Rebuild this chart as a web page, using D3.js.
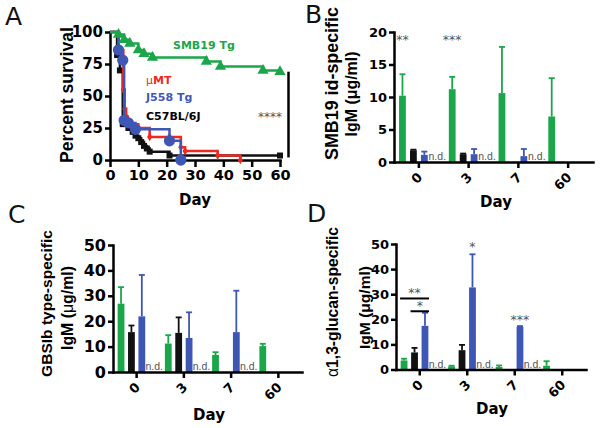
<!DOCTYPE html>
<html><head><meta charset="utf-8">
<script src="https://cdn.jsdelivr.net/npm/d3@7"></script>
<style>body{margin:0;background:#fff}svg{display:block}</style>
</head><body><svg id="c" width="600" height="428" font-family="DejaVu Sans"></svg>
<script>
// ---------------- data ----------------
// Panel A: Kaplan-Meier survival (day, percent)
const survDaysSMB19 = [0,3,5,7,10,12,15,34,39,54,60];
const survPctSMB19  = [100,98,94,91,86,83,80,77,73,70,69];
const survDaysMuMT  = [0,3,4.7,5.2,5.7,6.3,7,10,14,21,25,26.5,38,46];
const survPctMuMT   = [100,86,55,40,34,30,28,25,18,18,10,7,3.5,0];
const survDaysJ558  = [0,3,4.5,5,6.5,9,21,25];
const survPctJ558   = [100,86,78,31,29,24,15,0];
const survDaysC57   = [0,2.5,3.5,4.5,6.5,8,9,10,11,12,13,14,21,60];
const survPctC57    = [100,82,70,28,25,22,19,17,14,11,9,6.5,3.5,3.5];
const survTicksX = [0,10,20,30,40,50,60];
const survTicksY = [0,25,50,75,100];

// Panels B-D: IgM by day and mouse group
const days   = ["0","3","7","60"];
const groups = ["SMB19 Tg","C57BL/6J","J558 Tg","μMT"];
const ndMuMT = [true,true,true,false];   // μMT: not detected

const idSMB19 = [10.2,11.2,10.6,7.0];  const idSMB19Err = [3.3,1.9,7.1,5.9];
const idC57   = [1.8,1.2,null,null];   const idC57Err   = [0.1,0.1,null,null];
const idJ558  = [1.1,1.2,0.9,null];    const idJ558Err  = [0.5,0.8,1.1,null];
const idTicks = [0,5,10,15,20];

const gbsSMB19 = [26.9,11.2,6.7,10.2]; const gbsSMB19Err = [6.5,3.3,1.1,0.9];
const gbsC57   = [15.7,15.4,null,null];const gbsC57Err   = [2.6,6.1,null,null];
const gbsJ558  = [21.9,13.4,15.7,null];const gbsJ558Err  = [16.3,10.1,16.3,null];
const gbsTicks = [0,10,20,30,40,50];

const gluSMB19 = [3.6,1.2,1.0,1.5];    const gluSMB19Err = [0.7,0.3,0.6,1.8];
const gluC57   = [6.8,7.7,null,null];  const gluC57Err   = [1.8,2.1,null,null];
const gluJ558  = [17.4,32.7,17.0,null];const gluJ558Err  = [5.2,13.2,0.3,null];
const gluTicks = [0,10,20,30,40,50];

const sigB = [{day:"0",group:"SMB19 Tg",value:19,label:"**"},{day:"3",group:"SMB19 Tg",value:19,label:"***"}];
const sigD = [{day:"3",group:"J558 Tg",value:49.5,label:"*"},{day:"7",group:"J558 Tg",value:20.3,label:"***"}];
const bracketsD = [{day:"0",from:"SMB19 Tg",to:"J558 Tg",value:28.3,label:"**"},
                   {day:"0",from:"C57BL/6J",to:"J558 Tg",value:23.2,label:"*"}];

// ---------------- style ----------------
const C = {green:"#1ca64b", black:"#111111", blue:"#3f57b4", red:"#ec2a22", sig:"#555"};
const ARIAL = "Liberation Sans";
const svg = d3.select("#c");

function fitText(sel, target){
  const l = sel.node().getComputedTextLength();
  const fs = parseFloat(sel.attr("font-size"));
  sel.attr("font-size", fs*target/l);
}
function styleAxis(g, fs){
  g.attr("font-family","DejaVu Sans");
  g.select(".domain").attr("stroke","#000").attr("stroke-width",2.5).attr("stroke-linecap","square");
  g.selectAll(".tick line").attr("stroke","#000").attr("stroke-width",2.5);
  g.selectAll(".tick text").attr("font-weight","bold").attr("font-size",fs).attr("fill","#000");
}
function letter(t,x,y){
  svg.append("text").attr("x",x).attr("y",y).attr("font-size",25).attr("fill","#111").text(t);
}
function yTitle(lines){
  lines.forEach(L=>{
    const t = svg.append("text").attr("transform",`translate(${L.x},${L.y}) rotate(-90)`)
      .attr("text-anchor","middle").attr("dy","0.35em").attr("font-family",ARIAL)
      .attr("font-weight","bold").attr("font-size",16).attr("fill","#000");
    L.parts.forEach(p=> t.append("tspan").attr("font-weight",p[1]||"bold").text(p[0]));
    fitText(t, L.len);
  });
}

// ---------------- Panel A ----------------
letter("A",5,25);
const xA = d3.scaleLinear().domain([0,60]).range([110,280]);
const yA = d3.scaleLinear().domain([0,100]).range([160,32]);
const curves = [
  {d:survDaysC57,p:survPctC57,color:C.black,sym:d3.symbolSquare,size:36},
  {d:survDaysMuMT,p:survPctMuMT,color:C.red,sym:d3.symbolDiamond,size:22},
  {d:survDaysJ558,p:survPctJ558,color:C.blue,sym:d3.symbolCircle,size:100},
  {d:survDaysSMB19,p:survPctSMB19,color:C.green,sym:d3.symbolTriangle,size:55}
];
const gAx = svg.append("g").attr("transform","translate(0,160)")
  .call(d3.axisBottom(xA).tickValues(survTicksX).tickSize(7).tickSizeOuter(0).tickPadding(3));
styleAxis(gAx,14.5);
const gAy = svg.append("g").attr("transform","translate(110,0)")
  .call(d3.axisLeft(yA).tickValues(survTicksY).tickSize(5).tickSizeOuter(0).tickPadding(2));
styleAxis(gAy,15);
const stepLine = d3.line().x(d=>xA(d[0])).y(d=>yA(d[1])).curve(d3.curveStepAfter);
curves.forEach(c=>{
  const pts = c.d.map((d,i)=>[d,c.p[i]]);
  svg.append("path").attr("d",stepLine(pts)).attr("fill","none").attr("stroke",c.color).attr("stroke-width",2.5);
  svg.append("g").selectAll("path").data(pts.slice(1)).join("path")
    .attr("transform",d=>`translate(${xA(d[0])},${yA(d[1])})`)
    .attr("d",d3.symbol().type(c.sym).size(c.size)).attr("fill",c.color);
});
const legA = [
  {t:["SMB19 Tg"],c:C.green,x:173,y:45},
  {t:null,c:C.red,x:146,y:80},
  {t:["J558 Tg"],c:C.blue,x:146,y:97},
  {t:["C57BL/6J"],c:"#000",x:146,y:116}
];
legA.forEach(L=>{
  const t = svg.append("text").attr("x",L.x).attr("y",L.y).attr("dy","0.35em").attr("font-size",11).attr("font-weight","bold").attr("fill",L.c);
  if(L.t) t.text(L.t[0]); else { t.append("tspan").attr("font-weight","normal").text("μ"); t.append("tspan").text("MT"); }
});
svg.append("line").attr("x1",xA(63)).attr("x2",xA(63)).attr("y1",yA(69)).attr("y2",yA(2)).attr("stroke","#000").attr("stroke-width",2.5);
svg.append("text").attr("x",270).attr("y",121).attr("text-anchor","middle").attr("font-size",12).attr("fill",C.sig).text("****");
svg.append("text").attr("x",195).attr("y",205).attr("text-anchor","middle").attr("font-size",15).attr("font-weight","bold").text("Day");
yTitle([{x:67,y:95,len:136,parts:[["Percent survival"]]}]);

// ---------------- Bar panels ----------------
function barPanel(cfg){
  const x = d3.scaleBand().domain(days).range(cfg.xr);
  const bw = x.bandwidth();
  const xs = d3.scaleBand().domain(groups).range([-bw*0.44, bw*0.44]);
  const cx = (day,grp)=> x(day)+bw/2+xs(grp)+xs.bandwidth()/2;
  const y = d3.scaleLinear().domain([0,cfg.ymax]).range(cfg.yr);
  const series = [
    {grp:"SMB19 Tg",v:cfg.s1,e:cfg.s1e,color:C.green},
    {grp:"C57BL/6J",v:cfg.s2,e:cfg.s2e,color:C.black},
    {grp:"J558 Tg",v:cfg.s3,e:cfg.s3e,color:C.blue}
  ];
  const barW = 6.8;
  series.forEach(s=>{
    const data = days.map((d,i)=>({day:d,v:s.v[i],e:s.e[i]})).filter(d=>d.v!=null);
    const g = svg.append("g");
    g.selectAll("line.err").data(data).join("line")
      .attr("x1",d=>cx(d.day,s.grp)).attr("x2",d=>cx(d.day,s.grp))
      .attr("y1",d=>y(d.v)).attr("y2",d=>y(d.v+d.e)).attr("stroke",s.color).attr("stroke-width",1.8);
    g.selectAll("line.cap").data(data).join("line")
      .attr("x1",d=>cx(d.day,s.grp)-3).attr("x2",d=>cx(d.day,s.grp)+3)
      .attr("y1",d=>y(d.v+d.e)).attr("y2",d=>y(d.v+d.e)).attr("stroke",s.color).attr("stroke-width",1.8);
    g.selectAll("rect").data(data).join("rect")
      .attr("x",d=>cx(d.day,s.grp)-barW/2).attr("width",barW)
      .attr("y",d=>y(d.v)).attr("height",d=>y(0)-y(d.v)).attr("fill",s.color);
  });
  svg.append("g").selectAll("text").data(days.filter((d,i)=>ndMuMT[i])).join("text")
    .attr("x",d=>cx(d,"μMT")+2).attr("y",y(0)-2).attr("text-anchor","middle")
    .attr("font-family",ARIAL).attr("font-size",10.5).attr("fill","#555").text("n.d.");
  const gx = svg.append("g").attr("transform",`translate(0,${cfg.yr[0]})`)
    .call(d3.axisBottom(x).tickSize(6).tickSizeOuter(0));
  styleAxis(gx,13);
  gx.selectAll(".tick text").attr("x",0).attr("y",0).attr("dy",null)
    .attr("transform","translate(1,13) rotate(-45)").attr("text-anchor","end").attr("dominant-baseline","central");
  const gy = svg.append("g").attr("transform",`translate(${cfg.xr[0]},0)`)
    .call(d3.axisLeft(y).tickValues(cfg.ticks).tickSize(5).tickSizeOuter(0).tickPadding(2));
  styleAxis(gy,cfg.yfs);
  (cfg.sig||[]).forEach(s=>{
    svg.append("text").attr("x",cx(s.day,s.group)).attr("y",y(s.value)+5.5).attr("text-anchor","middle")
      .attr("font-size",12.5).attr("fill",C.sig).text(s.label);
  });
  (cfg.brackets||[]).forEach(b=>{
    const x1 = cx(b.day,b.from)-4, x2 = cx(b.day,b.to)+4;
    svg.append("line").attr("x1",x1).attr("x2",x2).attr("y1",y(b.value)).attr("y2",y(b.value)).attr("stroke","#000").attr("stroke-width",2);
    svg.append("text").attr("x",(x1+x2)/2).attr("y",y(b.value)-1).attr("text-anchor","middle")
      .attr("font-size",12.5).attr("fill",C.sig).text(b.label);
  });
  svg.append("text").attr("x",cfg.day[0]).attr("y",cfg.day[1]).attr("text-anchor","middle").attr("font-size",15).attr("font-weight","bold").text("Day");
  yTitle(cfg.titles);
}

letter("B",305,23);
barPanel({xr:[394,593],yr:[162,32],ymax:20,ticks:idTicks,yfs:13,
  s1:idSMB19,s1e:idSMB19Err,s2:idC57,s2e:idC57Err,s3:idJ558,s3e:idJ558Err,
  sig:sigB,day:[496,207],
  titles:[{x:332,y:83.5,len:153,parts:[["SMB19 id-specific"]]},
          {x:351,y:94,len:85,parts:[["IgM (μg/ml)"]]}]});

letter("C",8,223);
barPanel({xr:[113,302],yr:[372,245],ymax:50,ticks:gbsTicks,yfs:16,
  s1:gbsSMB19,s1e:gbsSMB19Err,s2:gbsC57,s2e:gbsC57Err,s3:gbsJ558,s3e:gbsJ558Err,
  day:[209,420],
  titles:[{x:47,y:303.5,len:147,parts:[["GBSIb type-specific"]]},
          {x:67,y:308,len:84,parts:[["IgM ("],["μ","normal"],["g/ml)"]]}]});

letter("D",307,222);
barPanel({xr:[396,586],yr:[369.5,244],ymax:50,ticks:gluTicks,yfs:13,
  s1:gluSMB19,s1e:gluSMB19Err,s2:gluC57,s2e:gluC57Err,s3:gluJ558,s3e:gluJ558Err,
  sig:sigD,brackets:bracketsD,day:[492,414],
  titles:[{x:333,y:302,len:150,parts:[["α","normal"],["1,3-glucan-specific"]]},
          {x:365,y:307.5,len:83,parts:[["IgM (μg/ml)"]]}]});
</script></body></html>
